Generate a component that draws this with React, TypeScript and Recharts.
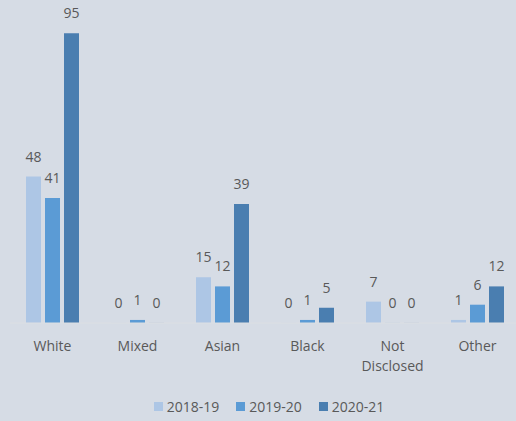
import React from "react";
import { BarChart, Bar, XAxis, YAxis, LabelList, Legend, Text } from "recharts";

const categories = ["White", "Mixed", "Asian", "Black", "Not Disclosed", "Other"];
const y2018 = [48, 0, 15, 0, 7, 1];
const y2019 = [41, 1, 12, 1, 0, 6];
const y2020 = [95, 0, 39, 5, 0, 12];
const seriesNames = ["2018-19", "2019-20", "2020-21"];
const seriesColors = ["#adc6e5", "#5b9bd5", "#4a7eb0"];

const data = categories.map((c, i) => ({
  name: c,
  s0: y2018[i],
  s1: y2019[i],
  s2: y2020[i],
}));

const FONT = "'Open Sans', sans-serif";
const TEXT_COLOR = "#595959";

const Tick = (props: any) => {
  const { x, y, payload } = props;
  return (
    <Text
      x={x}
      y={y + 10}
      width={70}
      textAnchor="middle"
      verticalAnchor="start"
      lineHeight={20}
      fill={TEXT_COLOR}
      fontSize={14}
      fontFamily={FONT}
    >
      {payload.value}
    </Text>
  );
};

const LegendContent = () => (
  <div
    style={{
      display: "flex",
      justifyContent: "center",
      alignItems: "center",
      fontFamily: FONT,
      fontSize: 14,
      color: TEXT_COLOR,
      paddingLeft: 8,
      paddingTop: 6,
    }}
  >
    {seriesNames.map((n, i) => (
      <div key={n} style={{ display: "flex", alignItems: "center", marginRight: i < 2 ? 17 : 0 }}>
        <span style={{ width: 9, height: 9, background: seriesColors[i], display: "inline-block", marginRight: 4 }} />
        <span>{n}</span>
      </div>
    ))}
  </div>
);

export default function App() {
  return (
    <div style={{ position: "absolute", left: 0, top: 0, width: 516, height: 421, overflow: "hidden", background: "#d6dce5" }}>
      <BarChart
        width={520}
        height={421}
        data={data}
        margin={{ top: 18, right: 0, left: 10, bottom: 0 }}
        barGap={4}
        barSize={15}
        style={{ background: "#d6dce5" }}
      >
        <XAxis
          dataKey="name"
          height={68}
          tick={<Tick />}
          tickLine={false}
          axisLine={{ stroke: "#dcdfe3", strokeWidth: 1 }}
          interval={0}
        />
        <YAxis hide domain={[0, 100]} />
        <Legend verticalAlign="bottom" height={30} content={<LegendContent />} />
        {["s0", "s1", "s2"].map((k, i) => (
          <Bar key={k} dataKey={k} name={seriesNames[i]} fill={seriesColors[i]} minPointSize={0.1} isAnimationActive={false}>
            <LabelList
              dataKey={k}
              position="top"
              offset={15}
              fill={TEXT_COLOR}
              fontSize={14}
              fontFamily={FONT}
            />
          </Bar>
        ))}
      </BarChart>
    </div>
  );
}
